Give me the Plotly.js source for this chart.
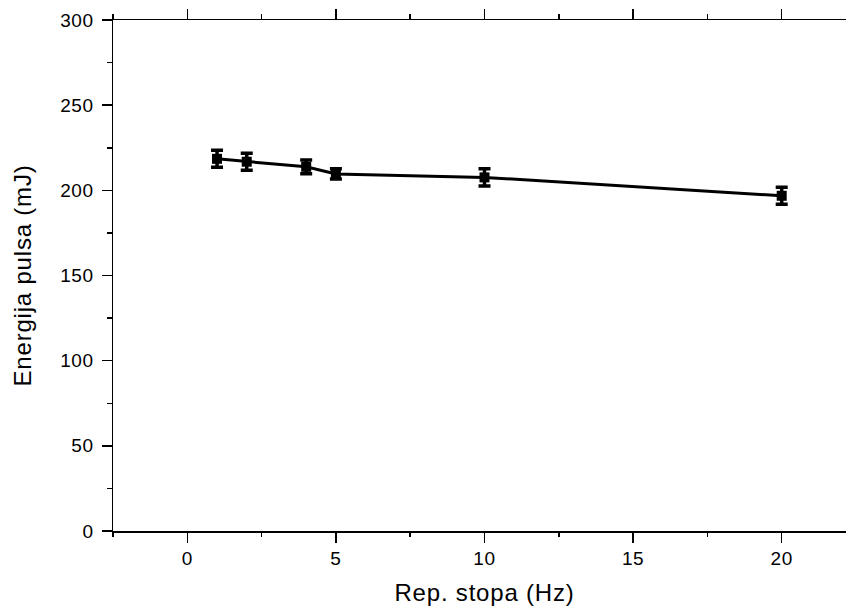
<!DOCTYPE html>
<html>
<head>
<meta charset="utf-8">
<script src="https://cdn.plot.ly/plotly-3.0.1.min.js"></script>
<style>
html, body { margin:0; padding:0; overflow:hidden; background:#fff; width:846px; height:611px; }
#chart { width:857px; height:611px; }
.xtitle, .ytitle { letter-spacing: 0.8px; }
.xtick text, .ytick text { letter-spacing: 0.6px; }
</style>
</head>
<body>
<div id="chart"></div>
<script>
// Data
const repRate = [1, 2, 4, 5, 10, 20];            // Rep. stopa (Hz)
const energy  = [218.5, 216.8, 213.8, 209.6, 207.6, 196.8]; // Energija pulsa (mJ)
const energyErr = [5, 5, 4, 3, 5, 5];

const xTickVals = [0, 5, 10, 15, 20];
const xTickText = ['0', '5', '10', '15', '20'];
const yTickVals = [0, 50, 100, 150, 200, 250, 300];
const yTickText = ['0', '50', '100', '150', '200', '250', '300'];
const xRange = [-2.5, 22.5];
const yRange = [0, 300];

const FONT = 'Liberation Sans, Arial, sans-serif';

const trace = {
  x: repRate,
  y: energy,
  type: 'scatter',
  mode: 'lines+markers',
  line: { color: '#000', width: 3 },
  marker: { symbol: 'square', size: 10, color: '#000' },
  error_y: { type: 'data', array: energyErr, visible: true, color: '#000', thickness: 3.5, width: 6 },
  showlegend: false,
  cliponaxis: false
};

// axes that only carry minor tick marks (no labels, no lines)
const tickAxis = (extra) => Object.assign({
  showgrid: false, zeroline: false, showline: false, showticklabels: false,
  tickcolor: '#000', tickwidth: 1.5, mirror: 'ticks'
}, extra);

const layout = {
  width: 857, height: 611,
  margin: { l: 113, r: 1, t: 20, b: 80 },
  paper_bgcolor: '#fff', plot_bgcolor: '#fff',
  showlegend: false,
  font: { family: FONT, color: '#000' },
  xaxis: {
    range: xRange, showgrid: false, zeroline: false, showline: true, mirror: 'ticks',
    linecolor: '#000', linewidth: 1.5,
    ticks: 'outside', ticklen: 10, tickwidth: 1.5, tickcolor: '#000',
    tickmode: 'array', tickvals: xTickVals, ticktext: xTickText,
    tickfont: { family: FONT, size: 19, color: '#000' },
    title: { text: 'Rep. stopa (Hz)', font: { family: FONT, size: 24, color: '#000' }, standoff: 16 }
  },
  yaxis: {
    range: yRange, showgrid: false, zeroline: false, showline: true, mirror: 'ticks',
    linecolor: '#000', linewidth: 1.5,
    ticks: 'outside', ticklen: 10, tickwidth: 1.5, tickcolor: '#000',
    tickmode: 'array', tickvals: yTickVals, ticktext: yTickText,
    ticklabelstandoff: 4,
    tickfont: { family: FONT, size: 19, color: '#000' },
    title: { text: 'Energija pulsa (mJ)', font: { family: FONT, size: 24, color: '#000' }, standoff: 22 }
  },
  // minor ticks
  xaxis2: tickAxis({ overlaying: 'x', side: 'bottom', anchor: 'y', range: xRange, tick0: 0, dtick: 2.5, ticks: 'outside', ticklen: 5 }),
  yaxis2: tickAxis({ overlaying: 'y', side: 'left', anchor: 'x', range: yRange, tick0: 0, dtick: 25, ticks: 'outside', ticklen: 5 })
};

const carriers = [
  { xaxis: 'x2', yaxis: 'y' },
  { xaxis: 'x', yaxis: 'y2' }
].map(t => Object.assign(t, { x: [0], y: [-100], type: 'scatter', mode: 'markers', showlegend: false, hoverinfo: 'skip' }));

Plotly.newPlot('chart', [trace].concat(carriers), layout, { staticPlot: true, displayModeBar: false });
</script>
</body>
</html>
